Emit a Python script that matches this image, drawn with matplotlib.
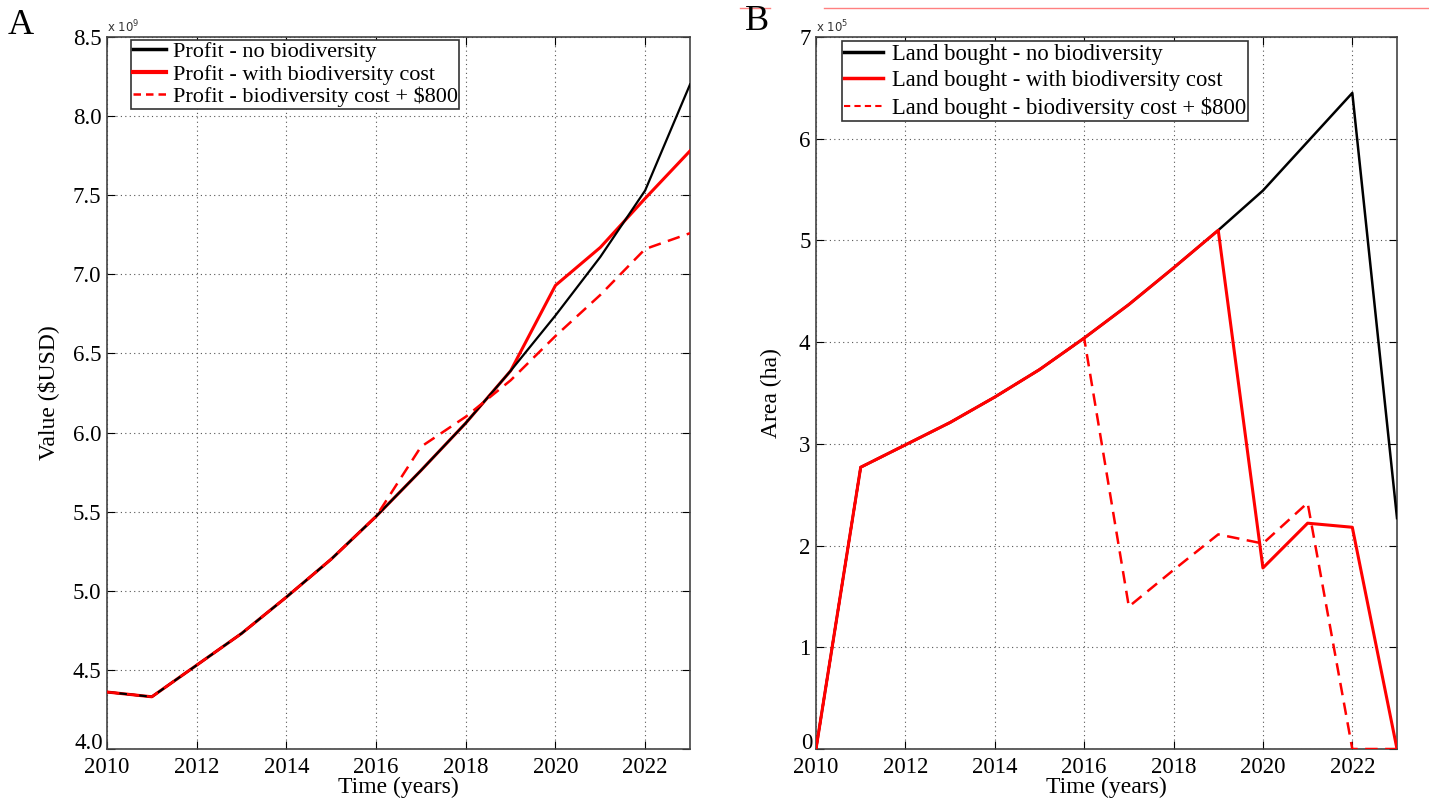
import matplotlib
matplotlib.use("Agg")
import matplotlib.pyplot as plt
import matplotlib.transforms as mtransforms
from matplotlib.ticker import FuncFormatter, MultipleLocator
from matplotlib.lines import Line2D

# ---------------- data ----------------
years = [2010, 2011, 2012, 2013, 2014, 2015, 2016, 2017, 2018, 2019, 2020, 2021, 2022, 2023]

# Panel A: profit (x 1e9 USD)
profit_no_bio = [4.36, 4.33, 4.53, 4.73, 4.96, 5.20, 5.47, 5.76, 6.06, 6.39, 6.74, 7.11, 7.53, 8.20]
profit_bio = [4.36, 4.33, 4.53, 4.73, 4.96, 5.20, 5.47, 5.76, 6.06, 6.39, 6.93, 7.17, 7.48, 7.78]
profit_bio800 = [4.36, 4.33, 4.53, 4.73, 4.96, 5.20, 5.47, 5.91, 6.10, 6.33, 6.61, 6.87, 7.16, 7.26]

# Panel B: land bought (x 1e5 ha)
land_no_bio = [0.0, 2.77, 2.99, 3.21, 3.46, 3.73, 4.04, 4.37, 4.73, 5.10, 5.49, 5.97, 6.45, 2.27]
land_bio = [0.0, 2.77, 2.99, 3.21, 3.46, 3.73, 4.04, 4.37, 4.73, 5.10, 1.78, 2.22, 2.18, 0.0]
land_bio800 = [0.0, 2.77, 2.99, 3.21, 3.46, 3.73, 4.04, 1.40, 1.76, 2.11, 2.02, 2.42, 0.0, 0.0]

labels_a = ["Profit - no biodiversity", "Profit - with biodiversity cost",
            "Profit - biodiversity cost + $800"]
labels_b = ["Land bought - no biodiversity", "Land bought - with biodiversity cost",
            "Land bought - biodiversity cost + $800"]

xticks = [2010, 2012, 2014, 2016, 2018, 2020, 2022]
ylim_a = (4.0, 8.5)
ylim_b = (0, 7)

# ---------------- style ----------------
SERIF = ["Liberation Serif", "DejaVu Serif"]
plt.rcParams["font.family"] = SERIF
plt.rcParams["mathtext.fontset"] = "dejavusans"

fig = plt.figure(figsize=(14.29, 8.05), dpi=100)
fig.patch.set_facecolor("white")

W, H = 1429.0, 805.0
axA = fig.add_axes([107 / W, 1 - 749 / H, (690 - 107) / W, (749 - 37) / H])
axB = fig.add_axes([816 / W, 1 - 749 / H, (1397 - 816) / W, (749 - 37) / H])

TICK_FS = 16.5


def style_axes(ax):
    ax.set_xlim(2010, 2023)
    ax.set_xticks(xticks)
    ax.grid(True, linestyle=(0, (1, 3)), color="#555555", linewidth=0.8)
    ax.tick_params(direction="in", length=6, width=0.8, top=True, right=True,
                   labelsize=TICK_FS, colors="black")
    ax.tick_params(axis="x", pad=6)
    ax.tick_params(axis="y", pad=4)
    for s in ax.spines.values():
        s.set_color("#444444")
        s.set_linewidth(1.2)
    ax.set_xlabel("Time (years)", fontsize=17, labelpad=-1)


def y_formatter(fmt, bottom):
    # the bottom label is drawn separately (sitting on the axis line)
    return FuncFormatter(lambda v, p: "" if abs(v - bottom) < 1e-9 else fmt % v)


def bottom_label(ax, value, text):
    trans = mtransforms.blended_transform_factory(ax.transAxes, ax.transData)
    off = mtransforms.ScaledTranslation(-4 / 100.0, 0, fig.dpi_scale_trans)
    ax.text(0, value, text, transform=trans + off, ha="right", va="baseline",
            fontsize=TICK_FS, clip_on=False)


# Panel A
axA.plot(years, profit_bio, color="red", linewidth=2.2, label=labels_a[1], zorder=3)
axA.plot(years, profit_no_bio, color="black", linewidth=1.6, label=labels_a[0], zorder=4)
axA.plot(years, profit_bio800, color="red", linewidth=1.8, linestyle=(0, (5, 3)),
         label=labels_a[2], zorder=5)
axA.set_ylim(*ylim_a)
axA.yaxis.set_major_locator(MultipleLocator(0.5))
axA.yaxis.set_major_formatter(y_formatter("%.1f", ylim_a[0]))
style_axes(axA)
bottom_label(axA, ylim_a[0], "%.1f" % ylim_a[0])
axA.set_ylabel("Value (\\$USD)", fontsize=17, labelpad=10)
axA.text(0.0, 1.003, r"x 10$^9$", transform=axA.transAxes, fontsize=8.5,
         family="DejaVu Sans", ha="left", va="bottom", color="#333333")

hA = [Line2D([], [], color="black", linewidth=2.5),
      Line2D([], [], color="red", linewidth=3.0),
      Line2D([], [], color="red", linewidth=1.8, linestyle=(0, (3, 2)))]
legA = axA.legend(hA, labels_a, loc="upper left", bbox_to_anchor=(0.041, 0.996),
                  fontsize=16, frameon=True, fancybox=False, framealpha=1,
                  edgecolor="#333333", borderpad=0.08, labelspacing=0.08,
                  handlelength=1.5, handletextpad=0.3, borderaxespad=0)
legA.get_frame().set_linewidth(1.2)

# Panel B
axB.plot(years, land_no_bio, color="black", linewidth=1.8, label=labels_b[0], zorder=3)
axB.plot(years, land_bio, color="red", linewidth=2.2, label=labels_b[1], zorder=4)
axB.plot(years, land_bio800, color="red", linewidth=1.8, linestyle=(0, (5, 3)),
         label=labels_b[2], zorder=5)
axB.set_ylim(*ylim_b)
axB.yaxis.set_major_locator(MultipleLocator(1))
axB.yaxis.set_major_formatter(y_formatter("%d", ylim_b[0]))
style_axes(axB)
bottom_label(axB, ylim_b[0], "%d" % ylim_b[0])
axB.set_ylabel("Area (ha)", fontsize=17, labelpad=12)
axB.text(0.0, 1.003, r"x 10$^5$", transform=axB.transAxes, fontsize=8.5,
         family="DejaVu Sans", ha="left", va="bottom", color="#333333")

hB = [Line2D([], [], color="black", linewidth=2.5),
      Line2D([], [], color="red", linewidth=2.5),
      Line2D([], [], color="red", linewidth=1.5, linestyle=(0, (3, 2)))]
legB = axB.legend(hB, labels_b, loc="upper left", bbox_to_anchor=(0.0448, 0.994),
                  fontsize=16.3, frameon=True, fancybox=False, framealpha=1,
                  edgecolor="#333333", borderpad=0.1, labelspacing=0.25,
                  handlelength=1.7, handletextpad=0.4, borderaxespad=0)
legB.get_frame().set_linewidth(1.2)

# Panel letters
fig.text(8 / W, 1 - 25 / H, "A", fontsize=26, ha="left", va="center", family=SERIF)
fig.text(745 / W, 1 - 22 / H, "B", fontsize=26, ha="left", va="center", family=SERIF)

# faint red rule at the top of panel B (scan artefact in the reference)
fig.add_artist(Line2D([824 / W, 1.0], [1 - 8 / H, 1 - 8 / H], color="#ff8080",
                      linewidth=1.0, transform=fig.transFigure))
fig.add_artist(Line2D([740 / W, 770 / W], [1 - 8 / H, 1 - 8 / H], color="#ff8080",
                      linewidth=1.0, transform=fig.transFigure))

fig.savefig("out.png", dpi=100, facecolor="white")
